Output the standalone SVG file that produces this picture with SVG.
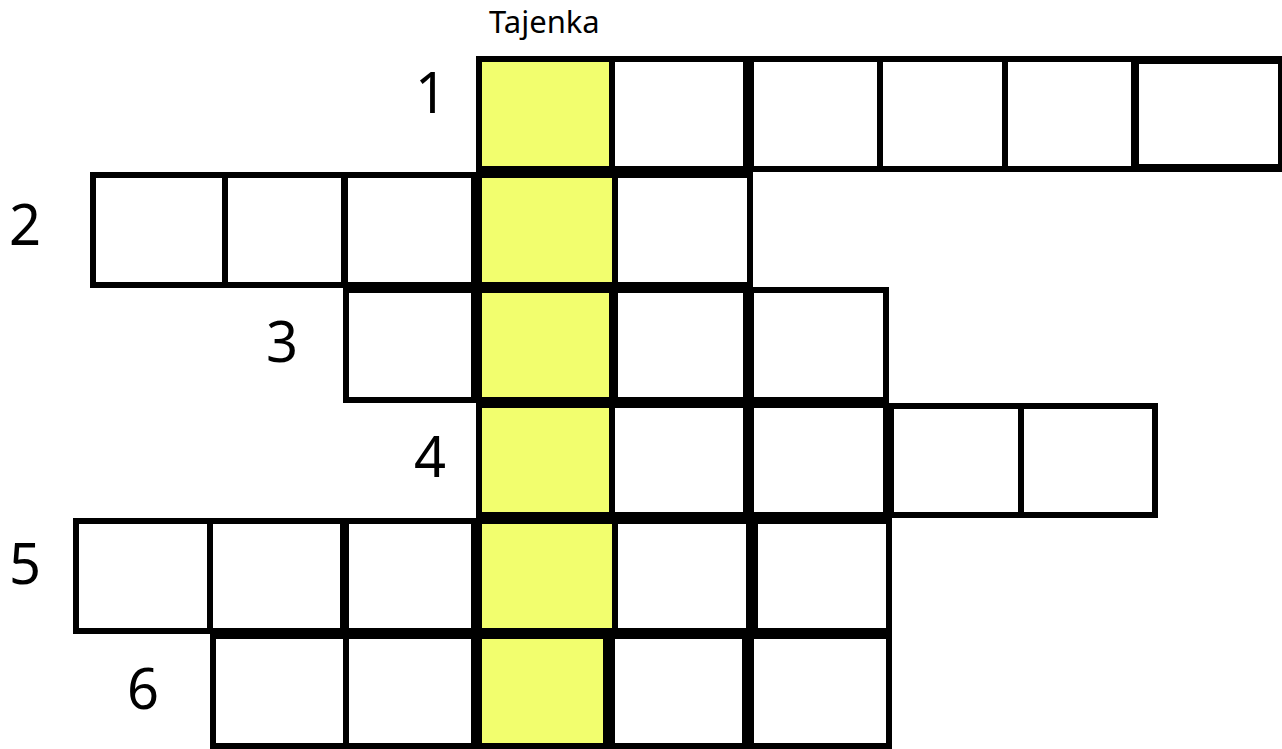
<svg xmlns="http://www.w3.org/2000/svg" width="1282" height="749" viewBox="0 0 1282 749">
<style>
.c{fill:#ffffff;stroke:#000000;stroke-width:6}
.y{fill:#F2FE6E;stroke:#000000;stroke-width:6}
.n{font-family:"Noto Sans","Liberation Sans",sans-serif;font-size:56px;fill:#000;text-anchor:middle}
.t{font-family:"Noto Sans","Liberation Sans",sans-serif;font-size:31px;fill:#000}
</style>
<rect width="1282" height="749" fill="#ffffff"/>
<g id="title"><text class="t" x="489" y="33">Tajenka</text></g>
<g id="row1">
<rect class="y" x="479" y="59" width="133" height="110"/>
<rect class="c" x="612" y="59" width="134" height="110"/>
<rect class="c" x="751" y="59" width="129" height="110"/>
<rect class="c" x="880" y="59" width="125" height="110"/>
<rect class="c" x="1005" y="59" width="129" height="110"/>
<rect class="c" x="1135" y="60" width="147" height="108" style="stroke-width:8"/>
<text class="n" x="431" y="113">1</text>
</g>
<g id="row2">
<rect class="c" x="93" y="175" width="132" height="110"/>
<rect class="c" x="225" y="175" width="119" height="110"/>
<rect class="c" x="345" y="175" width="129" height="110"/>
<rect class="y" x="479" y="175" width="136" height="110"/>
<rect class="c" x="615" y="175" width="135" height="110"/>
<text class="n" x="25" y="245">2</text>
</g>
<g id="row3">
<rect class="c" x="346" y="290" width="128" height="110"/>
<rect class="y" x="479" y="290" width="133" height="110"/>
<rect class="c" x="615" y="290" width="131" height="110"/>
<rect class="c" x="751" y="290" width="135" height="110"/>
<text class="n" x="282" y="362">3</text>
</g>
<g id="row4">
<rect class="y" x="479" y="405" width="133" height="110"/>
<rect class="c" x="612" y="405" width="134" height="110"/>
<rect class="c" x="751" y="405" width="135" height="110"/>
<rect class="c" x="891" y="406" width="130" height="109"/>
<rect class="c" x="1021" y="406" width="134" height="109"/>
<text class="n" x="430" y="477">4</text>
</g>
<g id="row5">
<rect class="c" x="76" y="521" width="134" height="110"/>
<rect class="c" x="210" y="521" width="133" height="110"/>
<rect class="c" x="346" y="521" width="128" height="110"/>
<rect class="y" x="479" y="521" width="136" height="110"/>
<rect class="c" x="615" y="521" width="134" height="110"/>
<rect class="c" x="755" y="521" width="134" height="110"/>
<text class="n" x="25" y="584">5</text>
</g>
<g id="row6">
<rect class="c" x="213" y="636" width="133" height="110"/>
<rect class="c" x="346" y="636" width="128" height="110"/>
<rect class="y" x="479" y="636" width="127" height="110"/>
<rect class="c" x="612" y="636" width="133" height="110"/>
<rect class="c" x="751" y="636" width="138" height="110"/>
<text class="n" x="143" y="709">6</text>
</g>
<g id="connectors"></g>
</svg>
